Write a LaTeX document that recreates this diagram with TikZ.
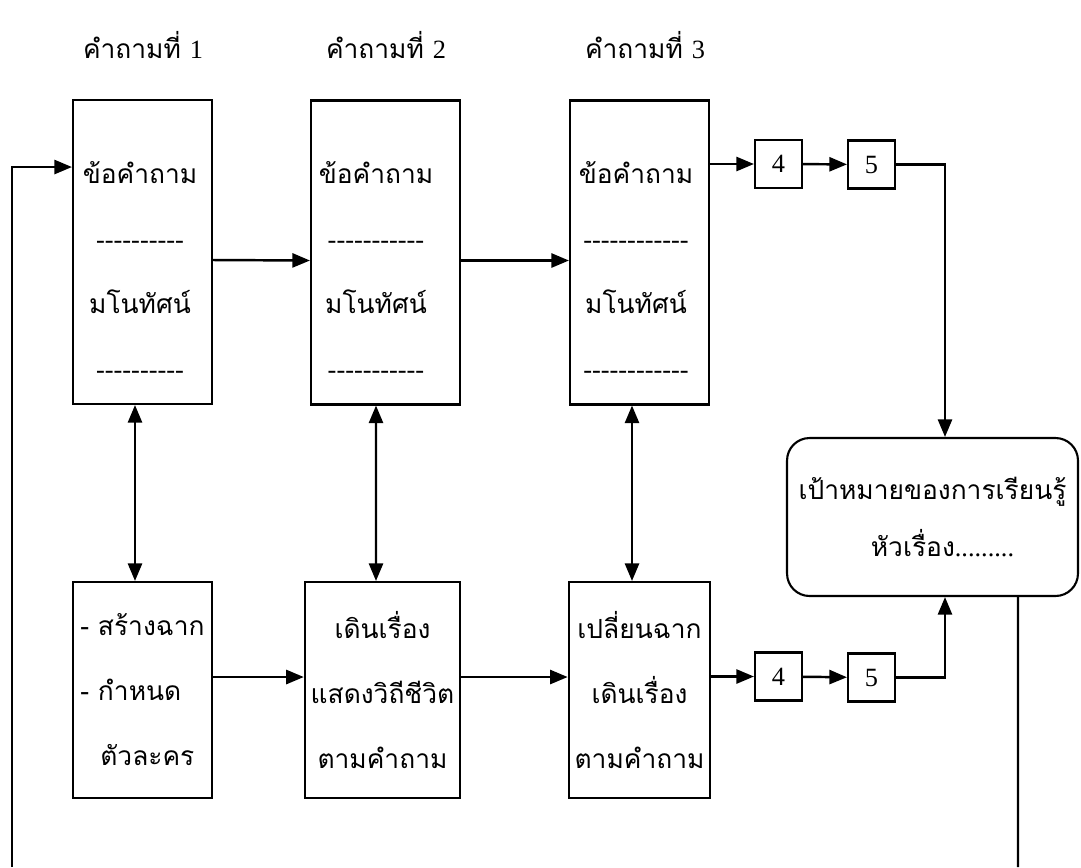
\documentclass[tikz,border=0pt]{standalone}
\usepackage{fontspec}
\setmainfont{Liberation Serif}
\newfontfamily\thaifont[Script=Thai]{Loma}
\usetikzlibrary{arrows.meta, positioning}
\tikzstyle{qbox} = [rectangle, minimum width=2.78cm, minimum height=6.08cm, draw=black, line width=1.2pt]
\tikzstyle{qtext} = [align=center, inner sep=0pt, font=\thaifont\fontsize{15}{37}\selectfont]
\tikzstyle{bbox} = [rectangle, minimum width=2.78cm, minimum height=4.32cm, align=center, draw=black, line width=1.2pt, font=\thaifont\fontsize{15}{37}\selectfont]
\tikzstyle{numbox} = [rectangle, minimum width=0.94cm, minimum height=0.96cm, draw=black, line width=1.2pt, font=\fontsize{15}{18}\selectfont]
\tikzstyle{goalbox} = [rectangle, rounded corners=0.45cm, minimum width=5.82cm, minimum height=3.16cm, align=center, draw=black, line width=1.2pt, font=\thaifont\fontsize{15}{32}\selectfont]
\tikzstyle{title} = [font=\thaifont\fontsize{15}{18}\selectfont]
\tikzstyle{arrow} = [line width=1.4pt, -{Triangle[length=10pt,width=8pt]}]
\tikzstyle{dblarrow} = [line width=1.4pt, {Triangle[length=10pt,width=8pt]}-{Triangle[length=10pt,width=8pt]}]
\tikzstyle{line} = [line width=1.4pt]
\newcommand{\dashrow}[1]{{\rmfamily\foreach \n in {1,...,#1}{-\kern0pt}}}

\begin{document}
\begin{tikzpicture}[x=0.02cm, y=-0.02cm]
                \useasboundingbox (0,0) rectangle (1081,867);
                % Nodes
                \node (title1) [title] at (143,45) {คำถามที่ {\rmfamily 1}};
                \node (title2) [title] at (386,45) {คำถามที่ {\rmfamily 2}};
                \node (title3) [title] at (645,45) {คำถามที่ {\rmfamily 3}};

                \node (q1) [qbox] at (142.5,252) {};
                \node (q2) [qbox, minimum width=2.98cm] at (385.5,252.5) {};
                \node (q3) [qbox] at (639.5,252.5) {};
                \node (q1txt) [qtext] at (140,270) {ข้อคำถาม\\\dashrow{10}\\มโนทัศน์\\\dashrow{10}};
                \node (q2txt) [qtext] at (376,270) {ข้อคำถาม\\\dashrow{11}\\มโนทัศน์\\\dashrow{11}};
                \node (q3txt) [qtext] at (636,270) {ข้อคำถาม\\\dashrow{12}\\มโนทัศน์\\\dashrow{12}};

                \node (t4) [numbox] at (778.5,164) {4};
                \node (t5) [numbox] at (871.5,164.5) {5};

                \node (goal) [goalbox] at (932.5,517) {เป้าหมายของการเรียนรู้\\\hspace*{0.4cm}หัวเรื่อง{\rmfamily.........}};

                \node (b1) [bbox, align=left] at (142.5,690) {- สร้างฉาก\\- กำหนด\\\hspace*{0.4cm}ตัวละคร};
                \node (b2) [bbox, minimum width=3.1cm] at (382.5,690) {เดินเรื่อง\\แสดงวิถีชีวิต\\ตามคำถาม};
                \node (b3) [bbox] at (639.5,690) {เปลี่ยนฉาก\\เดินเรื่อง\\ตามคำถาม};

                \node (s4) [numbox] at (778.5,676.5) {4};
                \node (s5) [numbox] at (871.5,677.5) {5};

                \coordinate (loopstart) at (12,867);
                \coordinate (loopend) at (1018,867);

                % Arrows
                \draw [arrow] ([yshift=-0.16cm]q1.east) -- ([yshift=-0.16cm]q2.west);
                \draw [arrow] ([yshift=-0.16cm]q2.east) -- ([yshift=-0.16cm]q3.west);
                \draw [arrow] (q3.east |- t4) -- (t4);
                \draw [arrow] (t4) -- (t5);
                \draw [arrow] (t5) -| ([xshift=0.25cm]goal.north);

                \draw [dblarrow] ([xshift=-0.15cm]q1.south) -- ([xshift=-0.15cm]b1.north);
                \draw [dblarrow] ([xshift=-0.19cm]q2.south) -- ([xshift=-0.13cm]b2.north);
                \draw [dblarrow] ([xshift=-0.15cm]q3.south) -- ([xshift=-0.15cm]b3.north);

                \draw [arrow] ([yshift=0.26cm]b1.east) -- ([yshift=0.26cm]b2.west);
                \draw [arrow] ([yshift=0.26cm]b2.east) -- ([yshift=0.26cm]b3.west);
                \draw [arrow] (b3.east |- s4) -- (s4);
                \draw [arrow] (s4) -- (s5);
                \draw [arrow] (s5) -| ([xshift=0.25cm]goal.south);

                \draw [arrow] (loopstart) |- ([yshift=1.7cm]q1.west);
                \draw [line] ([xshift=1.71cm]goal.south) -- (loopend);
            \end{tikzpicture}
\end{document}
